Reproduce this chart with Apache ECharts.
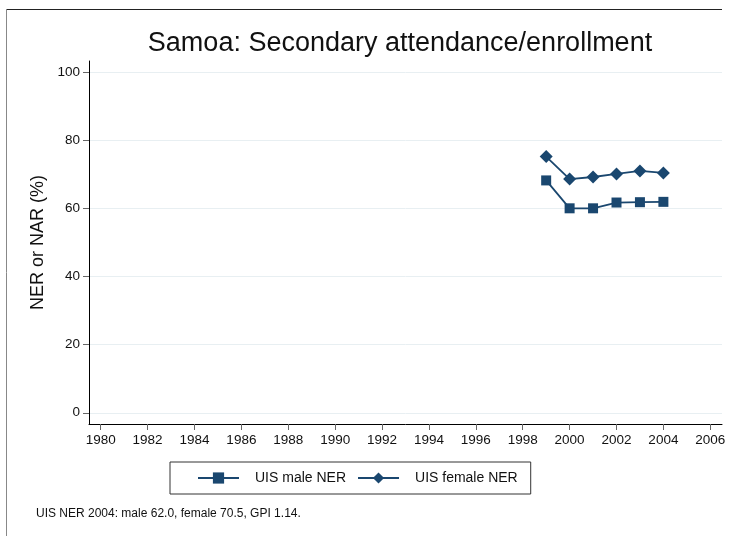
<!DOCTYPE html>
<html>
<head>
<meta charset="utf-8">
<script src="https://cdn.jsdelivr.net/npm/echarts@6/dist/echarts.min.js"></script>
<style>html,body{margin:0;padding:0;background:#fff}#c{width:731px;height:536px}</style>
</head>
<body>
<div id="c"></div>
<script>
var years = [1999, 2000, 2001, 2002, 2003, 2004];
var maleNER = [68.3, 60.1, 60.1, 61.8, 61.9, 62.0];
var femaleNER = [75.3, 68.7, 69.3, 70.2, 71.1, 70.5];
var xTicks = [1980,1982,1984,1986,1988,1990,1992,1994,1996,1998,2000,2002,2004,2006];
var yTicks = [0,20,40,60,80,100];
var titleText = 'Samoa: Secondary attendance/enrollment';
var noteText = 'UIS NER 2004: male 62.0, female 70.5, GPI 1.14.';

var navy = '#1a476f';
var font = 'Liberation Sans, Arial, sans-serif';
function pairs(xs, ys){ return xs.map(function(x,i){ return [x, ys[i]]; }); }

var chart = echarts.init(document.getElementById('c'), null, {renderer:'canvas'});
chart.setOption({
  animation: false,
  backgroundColor: '#fff',
  grid: {left: 89, right: 9, top: 61, bottom: 112, containLabel: false},
  xAxis: {
    type: 'value', min: 1979.5, max: 2006.5,
    axisLine: {show: true, onZero: false, lineStyle: {color: '#000', width: 1}},
    axisTick: {show: true, length: 6, customValues: xTicks, lineStyle: {color: '#666'}},
    axisLabel: {customValues: xTicks, color: '#111', fontSize: 13.5, fontFamily: font, margin: 9,
      formatter: function(v){ return String(v); }},
    splitLine: {show: false}
  },
  yAxis: {
    type: 'value', min: -3.3, max: 103.4,
    name: 'NER or NAR (%)', nameLocation: 'middle', nameGap: 38, nameRotate: 90,
    nameTextStyle: {fontSize: 18, fontFamily: font, color: '#111'},
    axisLine: {show: true, onZero: false, lineStyle: {color: '#000', width: 1}},
    axisTick: {show: true, length: 6, customValues: yTicks, lineStyle: {color: '#666'}},
    axisLabel: {customValues: yTicks, color: '#111', fontSize: 13.5, fontFamily: font, margin: 9},
    splitLine: {show: true, lineStyle: {color: '#e8eff2', width: 1}}
  },
  legend: {
    left: 170, top: 462,
    orient: 'horizontal',
    borderColor: '#333', borderWidth: 1, borderRadius: 0,
    padding: [9, 13, 9, 27], itemGap: 11,
    itemWidth: 41, itemHeight: 14,
    textStyle: {fontSize: 14, fontFamily: font, color: '#111', padding: [0, 0, 0, 11]},
    data: ['UIS male NER', 'UIS female NER']
  },
  graphic: [
    {type: 'text', x: 400, y: 44, style: {text: titleText, fontSize: 27, fontFamily: font, fill: '#111', textAlign: 'center', textVerticalAlign: 'middle'}},
    {type: 'text', x: 36, y: 514, style: {text: noteText, fontSize: 12, fontFamily: font, fill: '#111', textAlign: 'left', textVerticalAlign: 'middle'}},
    {type: 'line', shape: {x1: 6, y1: 9.5, x2: 722, y2: 9.5}, style: {stroke: '#222', lineWidth: 1}},
    {type: 'line', shape: {x1: 6.5, y1: 9, x2: 6.5, y2: 536}, style: {stroke: '#888', lineWidth: 1}}
  ],
  series: [
    {name: 'UIS male NER', type: 'line', data: pairs(years, maleNER), symbol: 'rect', symbolSize: 10,
      lineStyle: {color: navy, width: 1.8}, itemStyle: {color: navy}},
    {name: 'UIS female NER', type: 'line', data: pairs(years, femaleNER), symbol: 'diamond', symbolSize: 13,
      lineStyle: {color: navy, width: 1.8}, itemStyle: {color: navy}}
  ]
});
</script>
</body>
</html>
